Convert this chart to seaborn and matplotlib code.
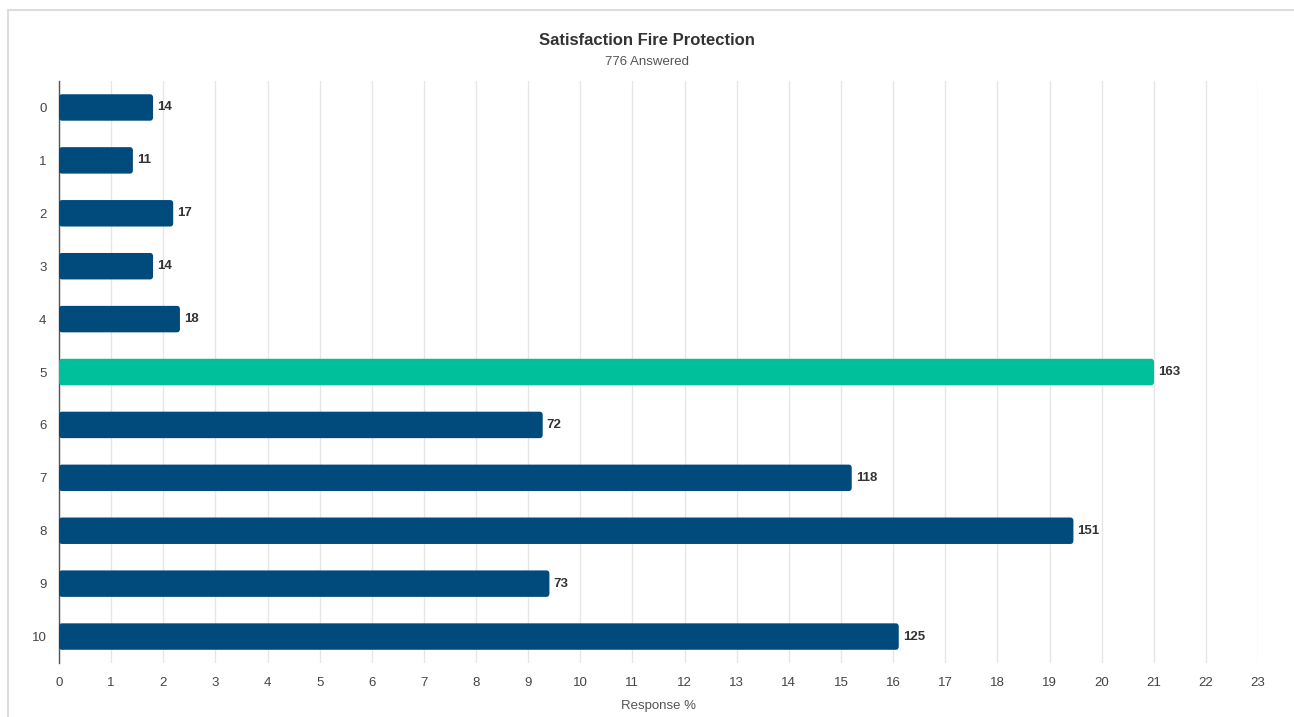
import matplotlib
matplotlib.use("Agg")
import matplotlib.pyplot as plt
from matplotlib.patches import FancyBboxPatch, Rectangle
import seaborn as sns
import pandas as pd

# Survey responses per satisfaction score
scores = ["0", "1", "2", "3", "4", "5", "6", "7", "8", "9", "10"]
counts = [14, 11, 17, 14, 18, 163, 72, 118, 151, 73, 125]
total_answered = 776
highlight_score = "5"

title = "Satisfaction Fire Protection"
subtitle = f"{total_answered} Answered"
x_label = "Response %"
x_ticks = list(range(0, 24))

df = pd.DataFrame({"score": scores, "count": counts})
df["pct"] = df["count"] / total_answered * 100

BLUE = "#004a7c"
GREEN = "#00bf9b"
palette = {s: (GREEN if s == highlight_score else BLUE) for s in scores}

sns.set_theme(style="white")
plt.rcParams["font.family"] = ["Liberation Sans", "DejaVu Sans"]

fig = plt.figure(figsize=(12.94, 7.17), dpi=100)
ax = fig.add_axes([0.0456, 0.0753, 0.9266, 0.8117])

sns.barplot(data=df, x="pct", y="score", hue="score", palette=palette,
            order=scores, orient="h", width=0.5, legend=False, ax=ax,
            saturation=1)

# rounded bar ends, built from each bar's own geometry
rects = [p for p in ax.patches if isinstance(p, Rectangle)]
for i, p in enumerate(rects):
    x0, y0 = p.get_x(), p.get_y()
    w, h = p.get_width(), p.get_height()
    fb = FancyBboxPatch((x0, y0), w, h,
                        boxstyle="round,pad=0,rounding_size=0.06",
                        facecolor=p.get_facecolor(), edgecolor="none",
                        zorder=3)
    ax.add_patch(fb)
    p.set_visible(False)
    ax.text(x0 + w + 0.08, y0 + h / 2, f"{df['count'].iloc[i]}",
            va="center", ha="left", fontsize=9.5, fontweight="bold",
            color="#333333", zorder=4)

ax.set_xlim(0, 23)
ax.set_ylim(10.5, -0.5)
ax.set_xticks(x_ticks)
ax.set_xticklabels([str(t) for t in x_ticks], fontsize=9.5, color="#444444")
ax.tick_params(axis="y", labelsize=9.5, labelcolor="#444444", length=0, pad=9)
ax.tick_params(axis="x", length=0, pad=10)
ax.xaxis.grid(True, color="#e6e6e6", linewidth=1)
ax.set_axisbelow(True)
for side in ["top", "right", "bottom"]:
    ax.spines[side].set_visible(False)
ax.spines["left"].set_color("#555555")
ax.spines["left"].set_linewidth(1)
ax.set_ylabel("")
ax.set_xlabel(x_label, fontsize=9.5, color="#555555", labelpad=8)

fig.text(0.5, 0.944, title, ha="center", va="center", fontsize=12,
         fontweight="bold", color="#333333")
fig.text(0.5, 0.914, subtitle, ha="center", va="center", fontsize=9.5,
         color="#555555")

# light panel frame
frame = Rectangle((8 / 1294, -0.01), 1.02, 1 - 10 / 717 + 0.01,
                  transform=fig.transFigure, fill=False,
                  edgecolor="#dcdcdc", linewidth=1.5)
fig.add_artist(frame)

fig.savefig("out.png", dpi=100)
